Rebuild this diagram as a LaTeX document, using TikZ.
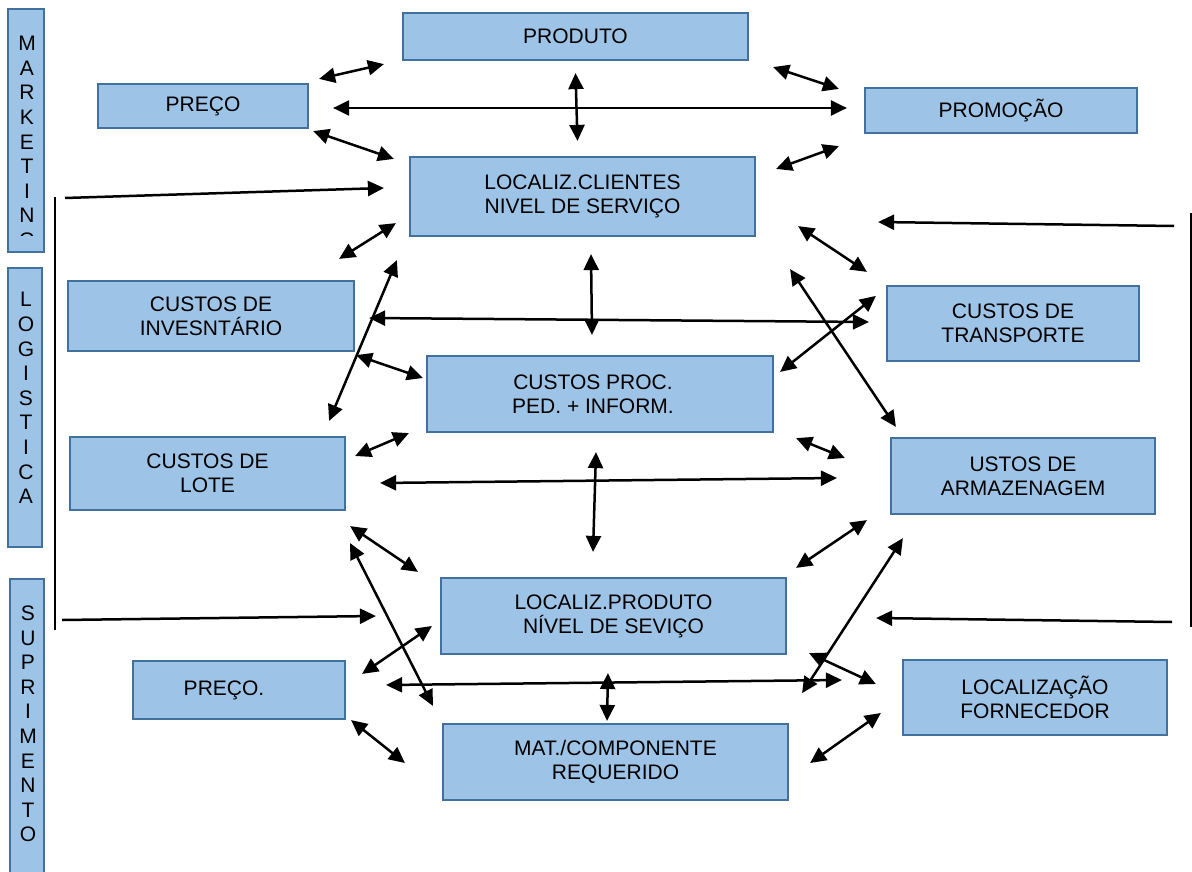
\documentclass[tikz,border=0pt]{standalone}
\usepackage{fontspec}
\setmainfont{Liberation Sans}
\usetikzlibrary{arrows.meta}
\definecolor{boxfill}{RGB}{157,195,230}
\definecolor{boxline}{RGB}{65,113,156}
\tikzset{
  box/.style={draw=boxline, fill=boxfill, line width=2.2pt, align=center, inner sep=0pt, font=\fontsize{21}{24}\selectfont},
  bar/.style={draw=boxline, fill=boxfill, line width=2.2pt, inner sep=0pt},
  bartext/.style={align=center, inner sep=0pt, font=\fontsize{21}{24.6}\selectfont},
  dbl/.style={{Triangle[length=16pt,width=15pt]}-{Triangle[length=16pt,width=15pt]}, line width=2.5pt},
  sgl/.style={-{Triangle[length=16pt,width=15pt]}, line width=2.5pt},
  frame/.style={line width=2pt}
}
\begin{document}
\begin{tikzpicture}[x=1pt,y=-1pt]
\clip (0,0) rectangle (1192,872);
% side bars
\node[bar, minimum width=36, minimum height=243] (mkt) at (26,130.5) {};
\begin{scope}
\clip (8,9) rectangle (44,235);
\node[bartext] (mkttext) at (27,142) {M\\A\\R\\K\\E\\T\\I\\N\\G};
\end{scope}
\node[bar, minimum width=34, minimum height=279] (logbar) at (25,407.5) {};
\node[bartext] (logtext) at (26,398) {L\\O\\G\\I\\S\\T\\I\\C\\A};
\node[bar, minimum width=34, minimum height=301] (supbar) at (27,729.5) {};
\node[bartext] (suptext) at (28,724) {S\\U\\P\\R\\I\\M\\E\\N\\T\\O};

% boxes
\node[box, minimum width=345, minimum height=47] (produto) at (575.5,36.5) {PRODUTO};
\node[box, minimum width=210, minimum height=44] (preco) at (203,106) {PREÇO};
\node[box, minimum width=272, minimum height=45] (promocao) at (1001,110.5) {PROMOÇÃO};
\node[box, minimum width=345, minimum height=79] (clientes) at (582.5,196.5) {LOCALIZ.CLIENTES\\NIVEL DE SERVIÇO};
\node[box, minimum width=286, minimum height=70] (inventario) at (211,316) {CUSTOS DE\\INVESNTÁRIO};
\node[box, minimum width=252, minimum height=75] (transporte) at (1013,323.5) {CUSTOS DE\\TRANSPORTE};
\node[box, minimum width=346, minimum height=76] (procped) at (600,394) {CUSTOS PROC.\hspace*{14pt}\\PED. + INFORM.\hspace*{14pt}};
\node[box, minimum width=275, minimum height=73] (lote) at (207.5,473.5) {CUSTOS DE\\LOTE};
\node[box, minimum width=264, minimum height=76] (armazenagem) at (1023,476) {USTOS DE\\ARMAZENAGEM};
\node[box, minimum width=345, minimum height=76] (locproduto) at (613.5,616) {LOCALIZ.PRODUTO\\NÍVEL DE SEVIÇO};
\node[box, minimum width=212, minimum height=58] (precob) at (239,690) {PREÇO.\hspace*{30pt}};
\node[box, minimum width=264, minimum height=75] (fornecedor) at (1035,697.5) {LOCALIZAÇÃO\\FORNECEDOR};
\node[box, minimum width=345, minimum height=76] (material) at (615.5,762) {MAT./COMPONENTE\\REQUERIDO};

% side lines
\coordinate (ltop) at (55,197);
\coordinate (lbot) at (55,630);
\coordinate (rtop) at (1191,213);
\coordinate (rbot) at (1191,627);
\draw[frame] (ltop) -- (lbot);
\draw[frame, line width=1.4pt] (rtop) -- (rbot);
\draw[sgl] ([shift={(10,1)}]ltop) -- ([shift={(-25,-8.5)}]clientes.west);
\draw[sgl] ([shift={(7,-10)}]lbot) -- ([shift={(-64,0)}]locproduto.west);
\draw[sgl] ([shift={(-17,13)}]rtop) -- ([shift={(122,25.5)}]clientes.east);
\draw[sgl] ([shift={(-19,-5)}]rbot) -- ([shift={(89,2)}]locproduto.east);

% links
\draw[dbl] ([shift={(10,-4)}]preco.north east) -- ([shift={(-18,3)}]produto.south west);
\draw[dbl] ([shift={(24,6)}]produto.south east) -- ([shift={(-25,2)}]promocao.north west);
\draw[dbl] ([shift={(24,2)}]preco.east) -- ([shift={(-17,-2.5)}]promocao.west);
\draw[dbl] ([shift={(0,12)}]produto.south) -- ([shift={(-5,-15)}]clientes.north);
\draw[dbl] ([shift={(4,2)}]preco.south east) -- ([shift={(-15,3)}]clientes.north west);
\draw[dbl] ([shift={(20,13)}]clientes.north east) -- ([shift={(-25,12)}]promocao.south west);
\draw[dbl] ([shift={(-16,-21)}]inventario.north east) -- ([shift={(-13,-14)}]clientes.south west);
\draw[dbl] ([shift={(42,-11)}]clientes.south east) -- ([shift={(-19,-13)}]transporte.north west);
\draw[dbl] ([shift={(-17,-15)}]lote.north east) -- ([shift={(-12,23)}]clientes.south west);
\draw[dbl] ([shift={(8.5,17)}]clientes.south) -- ([shift={(-8,-20)}]procped.north);
\draw[dbl] ([shift={(14,2)}]inventario.east) -- ([shift={(-17,-1.5)}]transporte.west);
\draw[dbl] ([shift={(-10,11)}]transporte.north west) -- ([shift={(6,17)}]procped.north east);
\draw[dbl] ([shift={(34,32)}]clientes.south east) -- ([shift={(6,-10)}]armazenagem.north west);
\draw[dbl] ([shift={(1,3)}]inventario.south east) -- ([shift={(-3,-16)}]procped.west);
\draw[dbl] ([shift={(9,-17.5)}]lote.east) -- ([shift={(-17,0)}]procped.south west);
\draw[dbl] ([shift={(34,9.5)}]lote.east) -- ([shift={(-53,2)}]armazenagem.west);
\draw[dbl] ([shift={(-4,19)}]procped.south) -- ([shift={(-20.5,-25)}]locproduto.north);
\draw[dbl] ([shift={(22,5)}]procped.south east) -- ([shift={(-45,-18)}]armazenagem.west);
\draw[dbl] ([shift={(-23,5)}]armazenagem.south west) -- ([shift={(9,-9)}]locproduto.north east);
\draw[dbl] ([shift={(13,23)}]armazenagem.south west) -- ([shift={(15,38)}]locproduto.south east);
\draw[dbl] ([shift={(4,15)}]lote.south east) -- ([shift={(-22,-5)}]locproduto.north west);
\draw[dbl] ([shift={(4,32)}]lote.south east) -- ([shift={(-9,-17)}]material.north west);
\draw[dbl] ([shift={(16,14)}]precob.north east) -- ([shift={(-8,10)}]locproduto.west);
\draw[dbl] ([shift={(40,-5)}]precob.east) -- ([shift={(-60,-17.5)}]fornecedor.west);
\draw[dbl] ([shift={(-5.5,18)}]locproduto.south) -- ([shift={(-8.5,-2)}]material.north);
\draw[dbl] ([shift={(5,0)}]precob.south east) -- ([shift={(-37,1)}]material.west);
\draw[dbl] ([shift={(22,-2)}]locproduto.south east) -- ([shift={(-26,-13.5)}]fornecedor.west);
\draw[dbl] ([shift={(-21,15.5)}]fornecedor.west) -- ([shift={(21,1)}]material.east);
\end{tikzpicture}
\end{document}
